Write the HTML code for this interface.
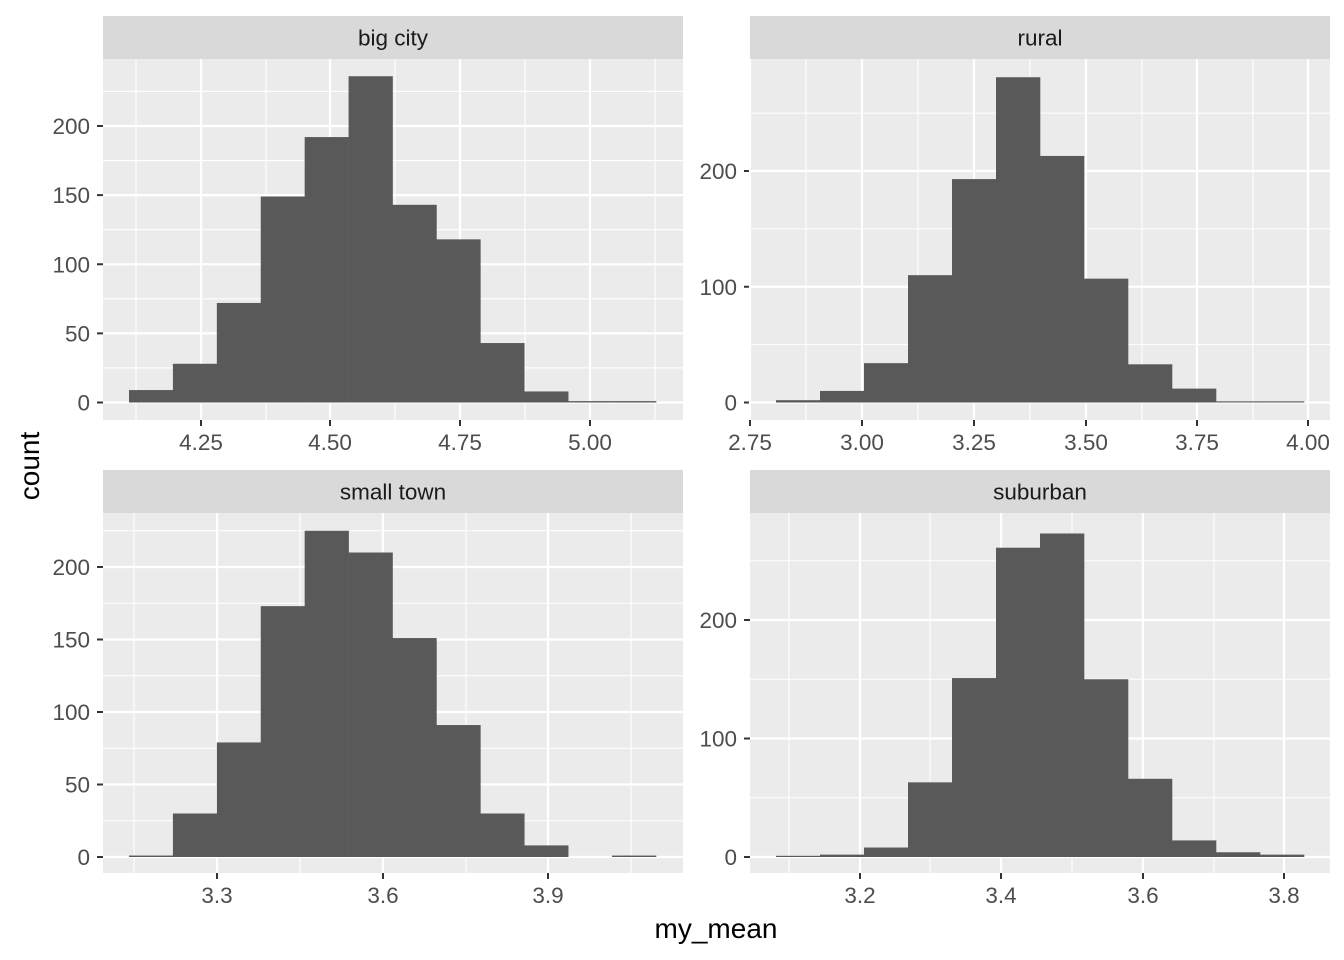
<!DOCTYPE html>
<html><head><meta charset="utf-8"><style>
html,body{margin:0;padding:0;background:#fff;}
svg{display:block;font-family:"Liberation Sans",sans-serif;}
</style></head><body>
<svg id="s" width="1344" height="960" xmlns="http://www.w3.org/2000/svg"></svg>
<script>
const s=document.getElementById('s');let h='';
const FS=22.5;
function panel(o){
 const {x0,x1,y0,y1,title,ymaj,ymin,xmaj,xmin,bars,bx0,bw,y0px,ppu}=o;
 h+=`<rect x="${x0}" y="${y0-43}" width="${x1-x0}" height="43" fill="#d9d9d9"/>`;
 h+=`<text x="${(x0+x1)/2}" y="${y0-13.5}" font-size="${FS}" fill="#1a1a1a" text-anchor="middle">${title}</text>`;
 h+=`<rect x="${x0}" y="${y0}" width="${x1-x0}" height="${y1-y0}" fill="#ebebeb"/>`;
 ymin.forEach(v=>{const y=y0px-v*ppu;if(y>y0&&y<y1)h+=`<line x1="${x0}" x2="${x1}" y1="${y}" y2="${y}" stroke="#fff" stroke-width="1.1"/>`;});
 xmin.forEach(x=>{h+=`<line x1="${x}" x2="${x}" y1="${y0}" y2="${y1}" stroke="#fff" stroke-width="1.1"/>`;});
 ymaj.forEach(v=>{const y=y0px-v*ppu;h+=`<line x1="${x0}" x2="${x1}" y1="${y}" y2="${y}" stroke="#fff" stroke-width="2.2"/>`;
  h+=`<line x1="${x0-6}" x2="${x0}" y1="${y}" y2="${y}" stroke="#333" stroke-width="2"/>`;
  h+=`<text x="${x0-13}" y="${y+8}" font-size="${FS}" fill="#4d4d4d" text-anchor="end">${v}</text>`;});
 xmaj.forEach(([x,l])=>{h+=`<line x1="${x}" x2="${x}" y1="${y0}" y2="${y1}" stroke="#fff" stroke-width="2.2"/>`;
  h+=`<line x1="${x}" x2="${x}" y1="${y1}" y2="${y1+6}" stroke="#333" stroke-width="2"/>`;
  h+=`<text x="${x}" y="${y1+30}" font-size="${FS}" fill="#4d4d4d" text-anchor="middle">${l}</text>`;});
 bars.forEach((c,i)=>{const ht=c*ppu;h+=`<rect x="${bx0+i*bw}" y="${y0px-ht}" width="${bw+0.3}" height="${ht}" fill="#595959"/>`;});
}
const bw=(656-129)/12;
panel({x0:103,x1:683,y0:59,y1:420,title:'big city',ymaj:[0,50,100,150,200],ymin:[25,75,125,175,225],
 xmaj:[[201,'4.25'],[330,'4.50'],[460,'4.75'],[590,'5.00']],xmin:[136,266,395,525,655],
 bars:[9,28,72,149,192,236,143,118,43,8,1,1],bx0:129,bw:bw,y0px:402.5,ppu:(402.5-126)/200});
panel({x0:750,x1:1330,y0:59,y1:420,title:'rural',ymaj:[0,100,200],ymin:[50,150,250],
 xmaj:[[750,'2.75'],[862,'3.00'],[974,'3.25'],[1086,'3.50'],[1197,'3.75'],[1308,'4.00']],xmin:[806,918,1030,1142,1253],
 bars:[2,10,34,110,193,281,213,107,33,12,1,1],bx0:776,bw:(1304-776)/12,y0px:402.5,ppu:(402.5-171)/200});
panel({x0:103,x1:683,y0:513,y1:873,title:'small town',ymaj:[0,50,100,150,200],ymin:[25,75,125,175,225],
 xmaj:[[217,'3.3'],[383,'3.6'],[548,'3.9']],xmin:[134,300,466,631],
 bars:[1,30,79,173,225,210,151,91,30,8,0,1],bx0:129,bw:bw,y0px:857,ppu:(857-567)/200});
panel({x0:750,x1:1330,y0:513,y1:873,title:'suburban',ymaj:[0,100,200],ymin:[50,150,250],
 xmaj:[[860,'3.2'],[1001,'3.4'],[1143,'3.6'],[1284,'3.8']],xmin:[789,930,1072,1214],
 bars:[1,2,8,63,151,261,273,150,66,14,4,2],bx0:776,bw:(1304-776)/12,y0px:857,ppu:(857-620)/200});
h+=`<text x="716" y="938" font-size="28" fill="#000" text-anchor="middle">my_mean</text>`;
h+=`<text transform="translate(39,466) rotate(-90)" font-size="28" fill="#000" text-anchor="middle">count</text>`;
s.innerHTML=h;
</script>
</body></html>
